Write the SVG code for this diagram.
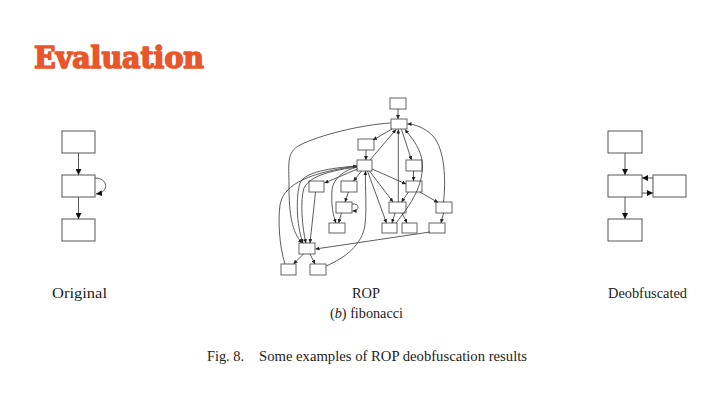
<svg xmlns="http://www.w3.org/2000/svg" width="720" height="405" viewBox="0 0 720 405">
<style>
.t{font-family:"Liberation Serif","Times New Roman",serif;fill:#222}
.bx{fill:#fff;stroke:#555;stroke-width:1}
.sb{fill:#fff;stroke:#555;stroke-width:0.9}
.e{fill:none;stroke:#333;stroke-width:0.8;marker-end:url(#a)}
.E{fill:none;stroke:#555;stroke-width:1;marker-end:url(#A)}
</style>
<defs>
<marker id="a" markerUnits="userSpaceOnUse" markerWidth="5" markerHeight="4" refX="4" refY="2" orient="auto"><path d="M0,0L4,2L0,4Z" fill="#222"/></marker>
<marker id="A" markerUnits="userSpaceOnUse" markerWidth="7" markerHeight="6" refX="6" refY="3" orient="auto"><path d="M0,0L6,3L0,6Z" fill="#111"/></marker>
</defs>
<rect width="720" height="405" fill="#fff"/>
<text x="34" y="68" font-family="'DejaVu Serif',serif" font-weight="bold" font-size="29" fill="#E8562A" stroke="#E8562A" stroke-width="1.6" stroke-linejoin="round" textLength="170" lengthAdjust="spacingAndGlyphs">Evaluation</text>

<g id="original">
<g id="o1"><rect class="bx" x="62" y="131" width="33" height="22"/></g>
<g id="o2"><rect class="bx" x="62" y="175" width="33" height="22"/></g>
<g id="o3"><rect class="bx" x="62" y="219" width="33" height="22"/></g>
<g id="o-edges">
<path class="E" d="M78.5,153V175"/>
<path class="E" d="M78.5,197V219"/>
<path class="E" d="M95,178C108,178 110,192 96,194"/>
</g>
</g>

<g id="deob">
<g id="d1"><rect class="bx" x="608" y="131" width="34" height="22"/></g>
<g id="d2"><rect class="bx" x="608" y="175" width="34" height="22"/></g>
<g id="d3"><rect class="bx" x="608" y="219" width="34" height="22"/></g>
<g id="d4"><rect class="bx" x="653" y="175" width="33" height="22"/></g>
<g id="d-edges">
<path class="E" d="M625,153V175"/>
<path class="E" d="M625,197V219"/>
<path class="E" d="M653,178H642"/>
<path class="E" d="M642,193H653"/>
</g>
</g>

<g id="rop">
<g id="n0"><rect class="sb" x="390" y="98" width="16" height="11"/></g>
<g id="n1"><rect class="sb" x="391" y="119" width="16" height="10"/></g>
<g id="n2"><rect class="sb" x="358" y="139" width="16" height="11"/></g>
<g id="n3"><rect class="sb" x="357" y="160" width="15" height="11"/></g>
<g id="n4"><rect class="sb" x="406" y="160" width="16" height="11"/></g>
<g id="n5"><rect class="sb" x="309" y="181" width="15" height="11"/></g>
<g id="n6"><rect class="sb" x="341" y="181" width="16" height="11"/></g>
<g id="n7"><rect class="sb" x="406" y="181" width="16" height="11"/></g>
<g id="n8"><rect class="sb" x="336" y="202" width="16" height="11"/></g>
<g id="n9"><rect class="sb" x="389" y="202" width="17" height="11"/></g>
<g id="n10"><rect class="sb" x="436" y="202" width="16" height="11"/></g>
<g id="n11"><rect class="sb" x="329" y="223" width="16" height="10"/></g>
<g id="n12"><rect class="sb" x="382" y="223" width="15" height="10"/></g>
<g id="n13"><rect class="sb" x="402" y="223" width="15" height="10"/></g>
<g id="n14"><rect class="sb" x="429" y="223" width="16" height="10"/></g>
<g id="n15"><rect class="sb" x="299" y="243" width="16" height="11"/></g>
<g id="n16"><rect class="sb" x="281" y="264" width="15" height="11"/></g>
<g id="n17"><rect class="sb" x="310" y="264" width="16" height="11"/></g>
<g id="rop-edges">
<path class="e" d="M398,109V119"/>
<path class="e" d="M392,129L373,140"/>
<path class="e" d="M366,150V160"/>
<path class="e" d="M370,160L396,129.5"/>
<path class="e" d="M401.5,129.5L411.5,160"/>
<path class="e" d="M398.3,202V129.5"/>
<path class="e" d="M396,223C410,205 425,185 422,160C419,145 410,136 405,129.5"/>
<path class="e" d="M443.5,202C446,180 445,150 433,136C425,128 415,124 407.5,124"/>
<path class="e" d="M372,169L406,184"/>
<path class="e" d="M413.5,171V181"/>
<path class="e" d="M408.5,192L401.5,202"/>
<path class="e" d="M420,192L438,202.5"/>
<path class="e" d="M395,213L392,223"/>
<path class="e" d="M402,213L407,223"/>
<path class="e" d="M369.5,171L393,202"/>
<path class="e" d="M367.5,171L386.5,223"/>
<path class="e" d="M361.5,171L353.5,181"/>
<path class="e" d="M357.5,169L324.5,183"/>
<path class="e" d="M348.5,192L345,202"/>
<path class="e" d="M352,204C360,203 360,211 352.5,211"/>
<path class="e" d="M341.5,213L338.5,223"/>
<path class="e" d="M315.5,192L310,243"/>
<path class="e" d="M443.5,213L441,223"/>
<path class="e" d="M430,232L315.5,249"/>
<path class="e" d="M303.5,254L293.5,264"/>
<path class="e" d="M310,254L315,264"/>
<path class="e" d="M326,266C345,258 362,245 365,225C367,205 365,190 365.5,171"/>
<path class="e" d="M285,264C279,245 278,220 280,205C283,188 300,174 357,166"/>
<path class="e" d="M390.5,123C360,125 320,135 300,145C286,152 289,165 289,185C289,215 292,232 302,243"/>
<path class="e" d="M357,166C330,168 305,172 300,183C296,195 296,225 303,243"/>
<path class="e" d="M357,167C335,170 310,175 304,188C300,200 302,228 306,243"/>
<path class="e" d="M357,167C345,170 333,178 332,190C331,205 333,215 336,223"/>
</g>
</g>

<text class="t" x="52" y="298" font-size="14" textLength="55" lengthAdjust="spacingAndGlyphs">Original</text>
<text class="t" x="352" y="298" font-size="14" textLength="28" lengthAdjust="spacingAndGlyphs">ROP</text>
<text class="t" x="330" y="318" font-size="14" textLength="73" lengthAdjust="spacingAndGlyphs">(<tspan font-style="italic">b</tspan>) fibonacci</text>
<text class="t" x="608" y="298" font-size="14" textLength="79" lengthAdjust="spacingAndGlyphs">Deobfuscated</text>
<text class="t" x="207" y="361" font-size="14.5" textLength="37" lengthAdjust="spacingAndGlyphs">Fig. 8.</text>
<text class="t" x="259" y="361" font-size="14.5" textLength="268" lengthAdjust="spacingAndGlyphs">Some examples of ROP deobfuscation results</text>
</svg>
